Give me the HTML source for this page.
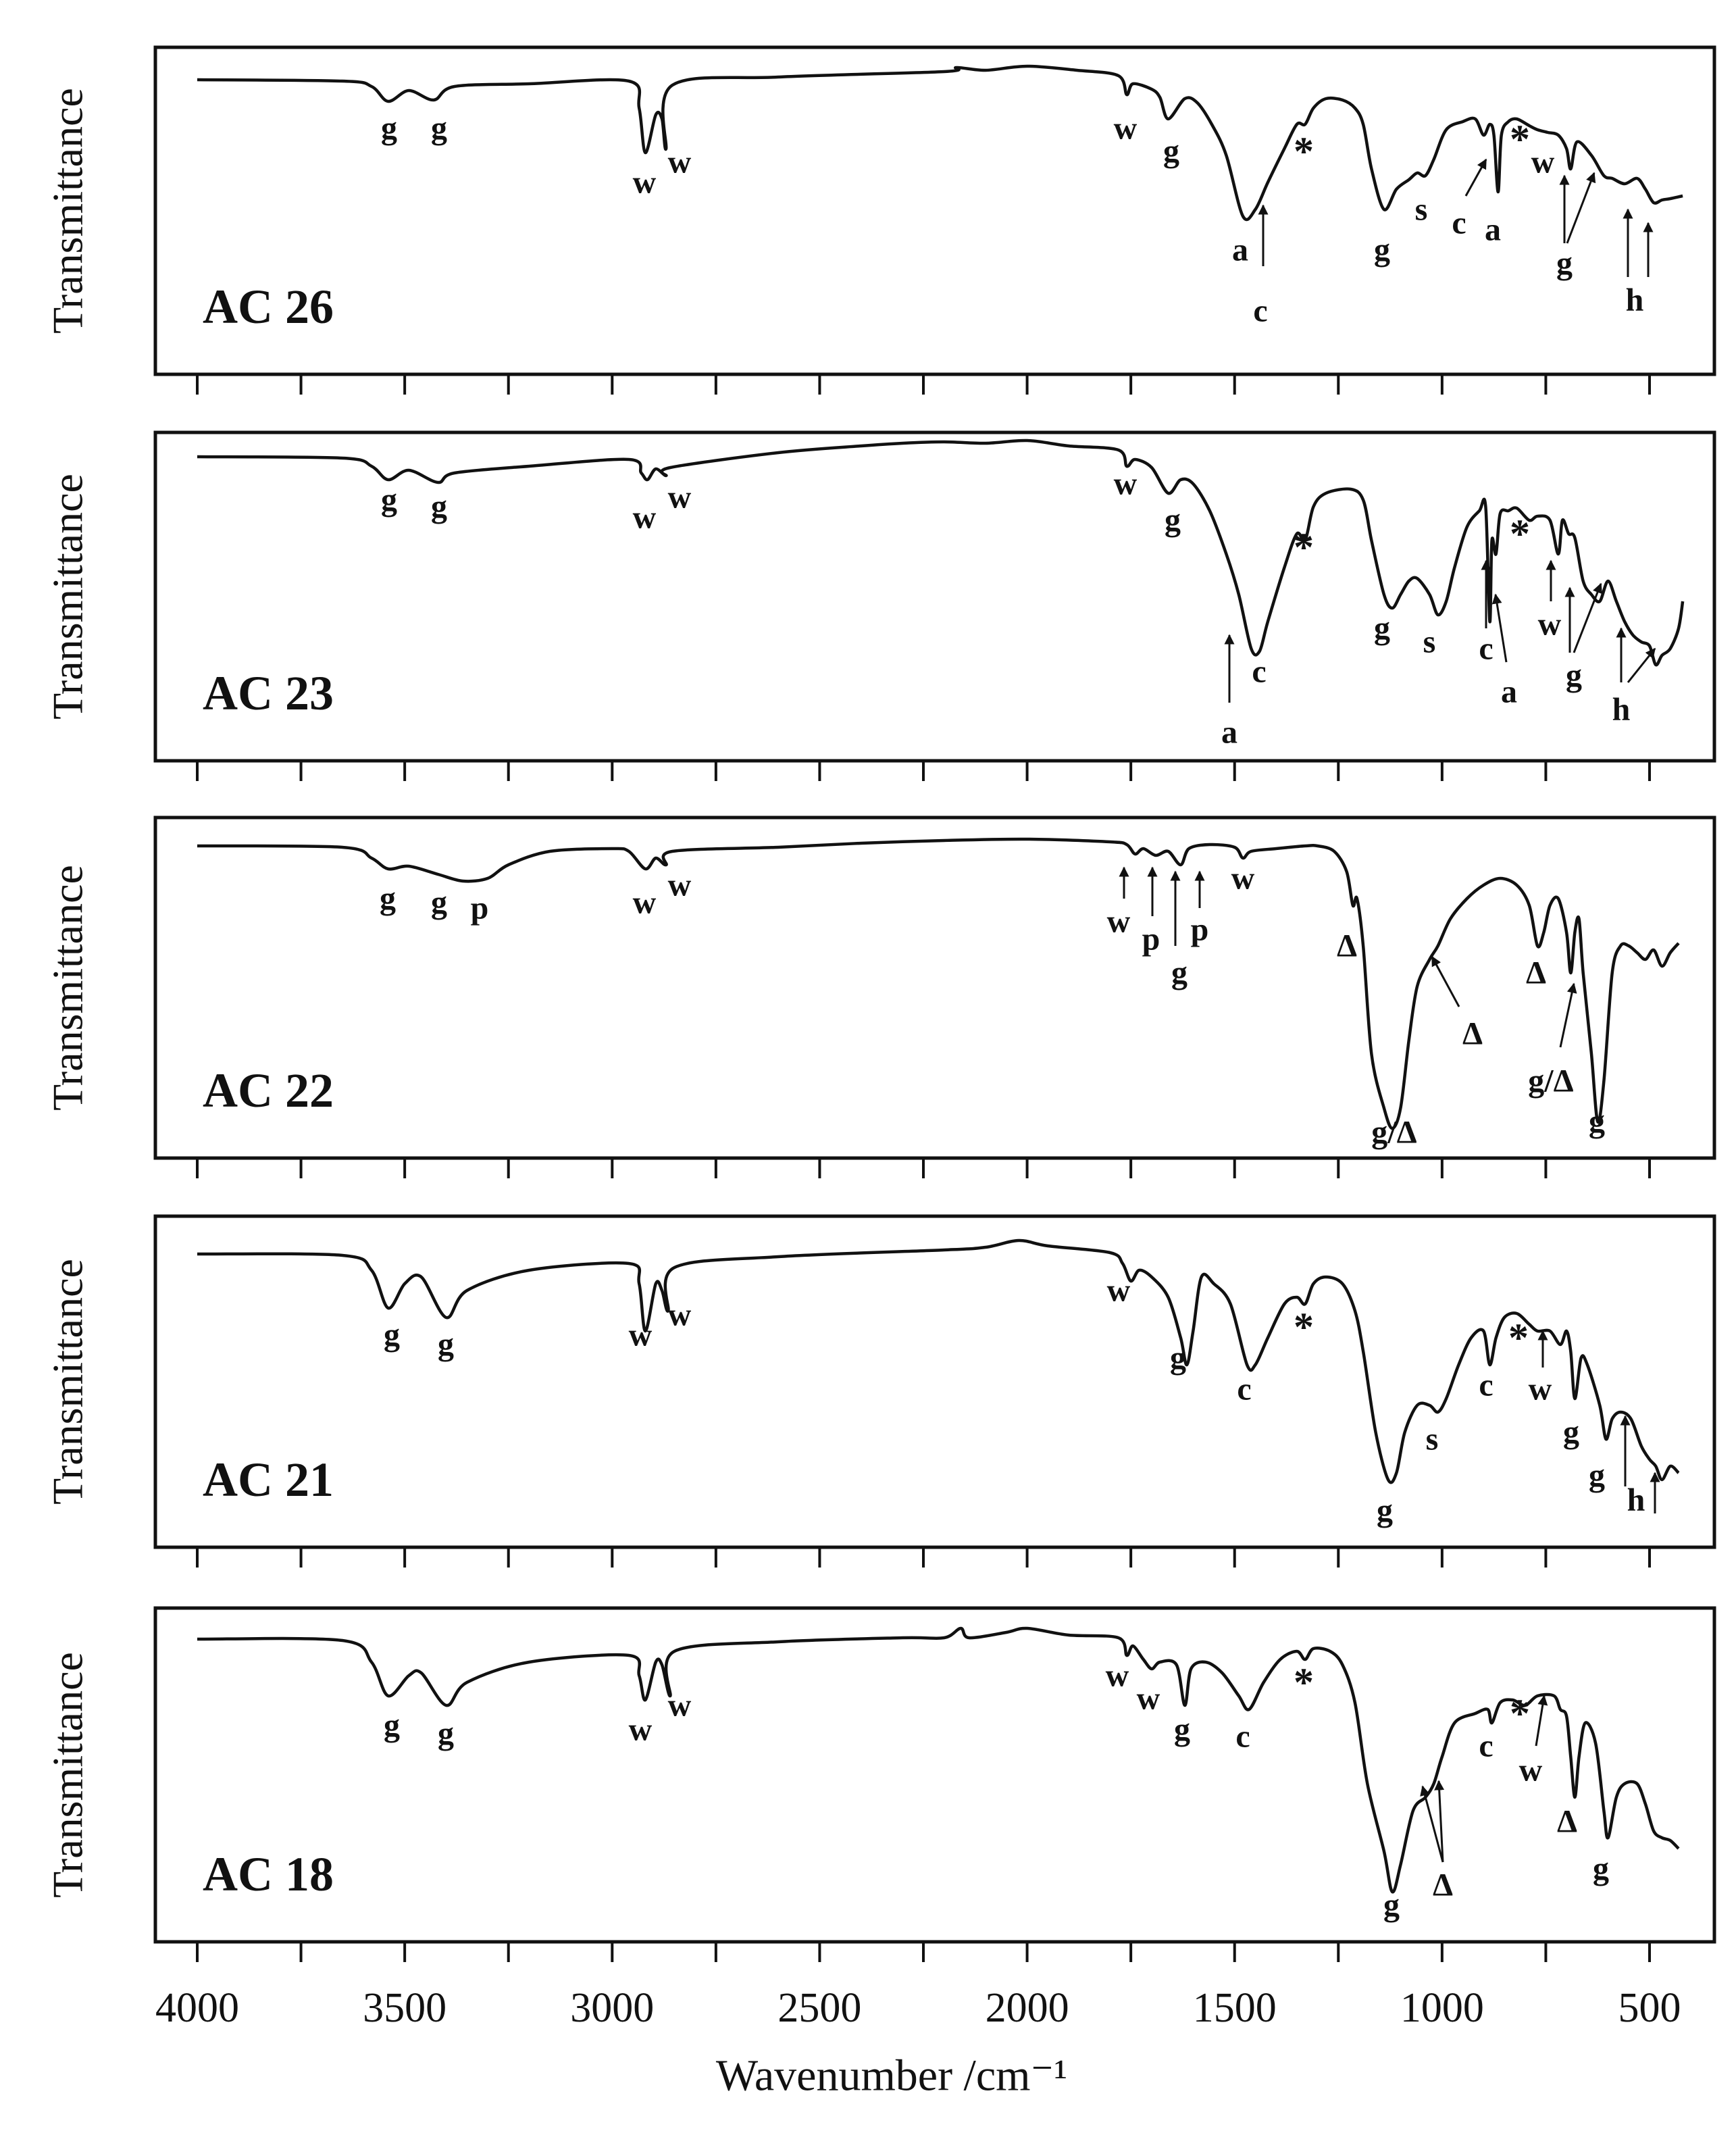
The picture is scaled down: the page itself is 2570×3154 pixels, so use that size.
<!DOCTYPE html>
<html><head><meta charset="utf-8">
<style>
html,body{margin:0;padding:0;background:#fff;}
svg{display:block;}
text{font-family:"Liberation Serif",serif;fill:#111;}
</style></head>
<body>
<svg id="chart" width="2570" height="3154" viewBox="0 0 2570 3154" xmlns="http://www.w3.org/2000/svg">
<defs>
<marker id="ah" viewBox="0 0 10 10" refX="9" refY="5" markerWidth="5" markerHeight="5" orient="auto-start-reverse">
<path d="M0,0 L10,5 L0,10 z" fill="#111"/></marker>
</defs>
<g id="root"></g>
</svg>
<script>
// x tick labels
const tickLabels = ["4000","3500","3000","2500","2000","1500","1000","500"];
const tickValues = [4000,3500,3000,2500,2000,1500,1000,500];
// sample names
const sampleNames = ["AC 26","AC 23","AC 22","AC 21","AC 18"];
// series: wavenumbers and transmittance (a.u.)
const wn26 = [4000,3650,3580,3540,3490,3430,3380,3200,2960,2935,2920,2895,2880,2870,2855,2600,2200,2170,2100,2000,1880,1780,1760,1745,1700,1680,1660,1620,1590,1555,1520,1480,1450,1420,1380,1350,1330,1310,1280,1240,1210,1190,1170,1140,1110,1080,1060,1040,1020,990,950,920,900,885,875,865,857,840,820,790,770,745,720,700,690,675,640,610,590,560,530,510,490,470,450,420];
const t26 = [218,217,213,202,210,203,213,215,217,197,164,192,189,167,214,220,224,227,225,228,225,221,207,215,211,205,189,204,201,185,162,117,122,142,167,185,185,197,204,203,197,185,152,122,137,144,149,147,159,181,187,189,177,185,177,135,177,187,189,184,181,179,177,167,152,172,162,147,145,141,145,137,127,129,130,132];
const wn23 = [4000,3650,3580,3540,3490,3420,3380,3200,2960,2930,2915,2895,2870,2860,2600,2400,2300,2200,2100,2000,1900,1780,1760,1740,1700,1660,1630,1600,1560,1520,1490,1460,1440,1420,1380,1350,1330,1310,1280,1220,1190,1170,1140,1120,1100,1080,1060,1030,1010,990,970,940,910,895,885,880,870,860,840,820,790,770,740,720,710,695,680,660,640,620,600,580,560,540,520,500,485,470,450,430,420];
const t23 = [225,224,218,208,215,206,213,218,223,213,208,216,211,217,228,233,235,236,235,237,233,230,218,223,217,198,208,205,185,153,123,83,81,103,143,168,163,188,198,201,193,163,123,113,123,133,135,123,108,118,143,173,185,188,103,163,153,183,185,187,178,181,178,153,178,168,165,133,123,118,133,118,103,93,88,85,71,78,83,98,118];
const wn22 = [4000,3650,3580,3540,3490,3420,3360,3300,3250,3150,3000,2960,2920,2895,2870,2855,2600,2400,2200,2000,1800,1760,1740,1720,1690,1660,1630,1610,1560,1500,1480,1460,1400,1330,1300,1260,1230,1215,1205,1190,1170,1140,1120,1100,1080,1060,1030,1010,980,940,900,860,820,790,770,755,740,720,700,690,680,670,660,640,625,610,590,570,550,530,510,490,470,450,430];
const t22 = [231,230,222,214,216,210,205,207,217,227,229,227,214,222,217,227,230,233,235,236,234,232,225,229,224,227,217,229,232,230,222,227,229,231,231,227,212,187,192,157,77,37,22,37,87,127,147,157,177,192,202,207,202,187,157,167,187,192,167,137,167,177,137,77,27,57,137,157,157,152,147,154,142,152,159];
const wn21 = [4000,3650,3580,3540,3500,3460,3400,3350,3200,2960,2935,2920,2895,2880,2865,2850,2600,2200,2100,2020,1950,1800,1770,1750,1730,1700,1660,1630,1615,1600,1580,1550,1510,1470,1450,1420,1380,1350,1330,1310,1280,1240,1210,1190,1160,1130,1110,1090,1060,1030,1010,990,960,930,900,885,870,850,820,790,770,740,715,700,690,680,665,650,620,605,590,570,545,520,500,485,470,450,430];
const t21 = [217,216,205,177,195,200,170,190,205,210,195,160,195,190,175,207,215,220,222,227,223,218,210,197,205,200,185,155,135,160,200,195,180,135,135,155,180,185,180,195,200,195,175,145,85,50,55,85,105,105,100,110,135,155,160,135,155,170,173,165,160,160,150,160,145,110,140,135,105,80,95,100,95,75,65,60,50,60,55];
const wn18 = [4000,3650,3580,3540,3490,3460,3400,3350,3200,2960,2935,2920,2895,2880,2860,2850,2600,2300,2200,2160,2140,2050,2000,1900,1780,1760,1745,1720,1700,1680,1640,1620,1605,1570,1530,1490,1465,1430,1390,1350,1330,1310,1270,1240,1210,1180,1140,1120,1100,1070,1040,1020,1000,970,920,890,880,860,830,800,770,730,715,700,690,680,670,655,630,610,600,580,560,530,510,490,470,450,430];
const t18 = [224,223,207,182,197,199,175,192,207,212,197,179,207,205,182,215,222,225,225,232,225,229,232,227,225,212,219,209,202,207,205,175,202,207,199,182,172,192,209,215,209,217,215,205,177,117,67,37,57,97,107,117,137,162,169,172,162,177,179,175,182,182,172,167,137,107,137,162,147,97,77,107,117,117,102,82,77,75,69];

const NS="http://www.w3.org/2000/svg";
const root=document.getElementById('root');
function mk(tag,attrs,parent){const e=document.createElementNS(NS,tag);for(const k in attrs)e.setAttribute(k,attrs[k]);(parent||root).appendChild(e);return e;}
const X0=292, XS=2150/3500, FL=230, FR=2538;
function xScale(w){return X0+(4000-w)*XS;}
function smooth(pts){
 let d='M'+pts[0][0].toFixed(1)+','+pts[0][1].toFixed(1);
 const s=0.16;
 for(let i=0;i<pts.length-1;i++){
  const p0=pts[Math.max(0,i-1)],p1=pts[i],p2=pts[i+1],p3=pts[Math.min(pts.length-1,i+2)];
  const c1x=p1[0]+(p2[0]-p0[0])*s,c1y=p1[1]+(p2[1]-p0[1])*s;
  const c2x=p2[0]-(p3[0]-p1[0])*s,c2y=p2[1]-(p3[1]-p1[1])*s;
  d+='C'+c1x.toFixed(1)+','+c1y.toFixed(1)+' '+c2x.toFixed(1)+','+c2y.toFixed(1)+' '+p2[0].toFixed(1)+','+p2[1].toFixed(1);
 }
 return d;
}
const panels=[
 {top:70,bot:554,H:242,wn:wn26,t:t26,name:'ac26'},
 {top:640,bot:1126,H:243,wn:wn23,t:t23,name:'ac23'},
 {top:1210,bot:1714,H:252,wn:wn22,t:t22,name:'ac22'},
 {top:1800,bot:2290,H:245,wn:wn21,t:t21,name:'ac21'},
 {top:2380,bot:2874,H:247,wn:wn18,t:t18,name:'ac18'}
];
// annotation labels (half-scale image coords)
const labels=[
 [["g",288,95],["g",325,95],["w",477,135],["w",503,120],["w",833,95],["g",867,112],["a",918,185],["c",933,230],["*",965,112],["g",1023,185],["s",1052,155],["c",1080,165],["a",1105,170],["*",1125,103],["w",1142,120],["g",1158,195],["h",1210,222]],
 [["g",288,370],["g",325,375],["w",477,383],["w",503,368],["w",833,358],["g",868,385],["*",965,405],["a",910,542],["c",932,497],["g",1023,465],["s",1058,475],["c",1100,480],["a",1117,512],["*",1125,395],["w",1147,462],["g",1165,500],["h",1200,525]],
 [["g",287,665],["g",325,668],["p",355,672],["w",477,668],["w",503,655],["w",828,682],["p",852,695],["g",873,720],["p",888,688],["w",920,650],["Δ",997,700],["g/Δ",1032,838],["Δ",1090,765],["Δ",1137,720],["g/Δ",1148,800],["g",1182,830]],
 [["g",290,988],["g",330,995],["w",474,988],["w",503,973],["w",828,955],["g",872,1005],["c",921,1028],["*",965,982],["g",1025,1118],["s",1060,1065],["c",1100,1025],["*",1124,990],["w",1140,1028],["g",1163,1060],["g",1182,1092],["h",1211,1110]],
 [["g",290,1277],["g",330,1283],["w",474,1280],["w",503,1262],["w",827,1240],["w",850,1257],["g",875,1280],["c",920,1285],["*",965,1245],["g",1030,1410],["Δ",1068,1395],["c",1100,1292],["*",1125,1268],["w",1133,1310],["Δ",1160,1348],["g",1185,1383]]
];
const arrows=[
 [[935,197,935,152],[1085,145,1100,118],[1158,180,1158,130],[1160,180,1180,128],[1205,205,1205,155],[1220,205,1220,165]],
 [[910,520,910,470],[1100,465,1100,415],[1115,490,1107,440],[1148,445,1148,415],[1162,483,1162,435],[1165,483,1185,432],[1200,505,1200,465],[1205,505,1225,480]],
 [[832,665,832,642],[853,678,853,642],[870,700,870,645],[888,672,888,645],[1080,745,1060,708],[1155,775,1165,728]],
 [[1142,1012,1142,985],[1203,1100,1203,1048],[1225,1120,1225,1090]],
 [[1068,1378,1053,1322],[1068,1378,1065,1318],[1137,1292,1143,1255]]
];
panels.forEach((p,i)=>{
 const g=mk('g',{});
 
 
 const yS=v=>p.bot-v*(p.bot-p.top)/p.H;
 const fr=mk('rect',{x:FL,y:p.top,width:FR-FL,height:p.bot-p.top,fill:'none',stroke:'#111','stroke-width':5},g);
 
 
 const n=Math.min(p.wn.length,p.t.length);
 const pts=[];
 for(let k=0;k<n;k++){pts.push([xScale(p.wn[k]),yS(p.t[k])]);}
 const path=mk('path',{d:smooth(pts),fill:'none',stroke:'#111','stroke-width':4.5,'stroke-linejoin':'round'},g);
 
 
 for(let w=4000;w>=500;w-=250){
  const t=mk('line',{x1:xScale(w),x2:xScale(w),y1:p.bot,y2:p.bot+30,stroke:'#111','stroke-width':4},g);
  
  
 }
 const yt=mk('text',{x:0,y:0,'font-size':64,'text-anchor':'middle','dominant-baseline':'central',transform:`translate(100,${(p.top+p.bot)/2}) rotate(-90)`},g);
 yt.textContent='Transmittance';
 
 
 const nm=mk('text',{x:300,y:p.bot-100,'font-size':72,'font-weight':'bold','dominant-baseline':'central'},g);
 nm.textContent=sampleNames[i];
 
 
 labels[i].forEach(l=>{
  const t=mk('text',{x:l[1]*2,y:l[2]*2,'font-size':l[0]==='*'?60:48,'font-weight':'bold','text-anchor':'middle','dominant-baseline':'central'},g);
  t.textContent=l[0];
  
  
 });
 arrows[i].forEach(a=>{
  const ln=mk('line',{x1:a[0]*2,y1:a[1]*2,x2:a[2]*2,y2:a[3]*2,stroke:'#111','stroke-width':3,'marker-end':'url(#ah)'},g);
  
  
 });
});
tickLabels.forEach((s,i)=>{
 const t=mk('text',{x:xScale(tickValues[i]),y:2972,'font-size':62,'text-anchor':'middle','dominant-baseline':'central'});
 t.textContent=s;
 
 
});
const xt=mk('text',{x:1320,y:3072,'font-size':66,'text-anchor':'middle','dominant-baseline':'central'});
xt.textContent='Wavenumber /cm\u207B\u00B9';


</script>
</body></html>
